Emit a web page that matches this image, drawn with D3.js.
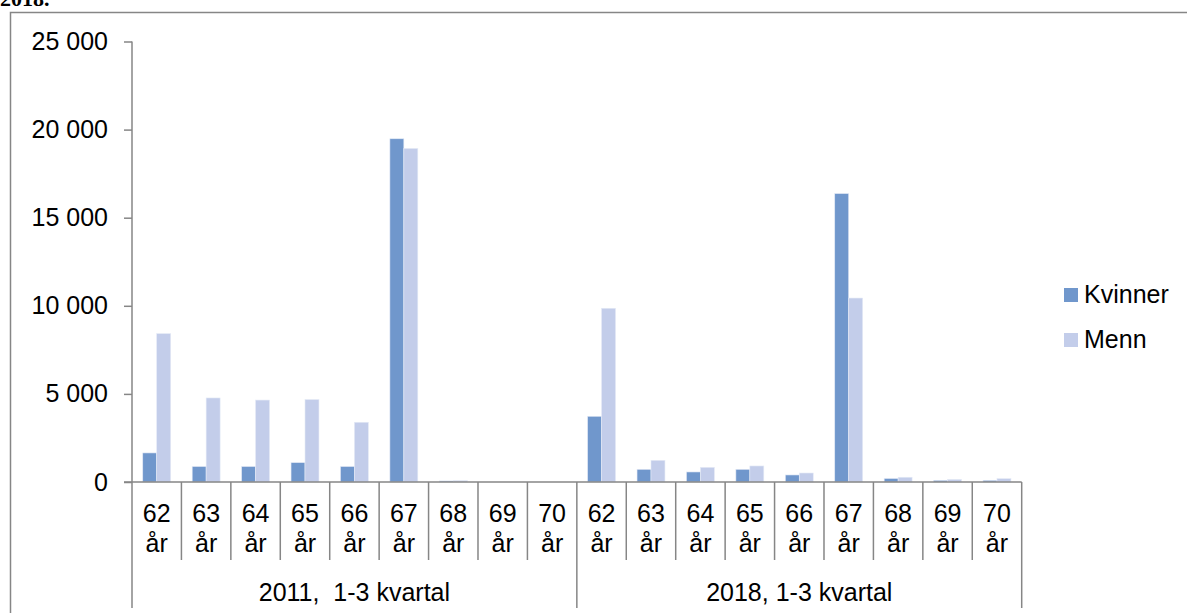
<!DOCTYPE html>
<html>
<head>
<meta charset="utf-8">
<script src="https://cdn.jsdelivr.net/npm/d3@7"></script>
<style>
  body { margin: 0; background: #fff; }
  svg { display: block; font-family: Arial, "Liberation Sans", sans-serif; }
  text { white-space: pre; }
</style>
</head>
<body>
<svg id="chart" width="1187" height="613"></svg>
<script>
// data
const ages = ['62', '63', '64', '65', '66', '67', '68', '69', '70'];
const periods = ['2011,  1-3 kvartal', '2018, 1-3 kvartal'];
const seriesNames = ['Kvinner', 'Menn'];
const kvinner2011 = [1650, 880, 880, 1100, 880, 19480, 60, 0, 0];
const menn2011    = [8420, 4770, 4650, 4680, 3390, 18930, 80, 0, 0];
const kvinner2018 = [3730, 720, 570, 720, 400, 16370, 200, 95, 95];
const menn2018    = [9860, 1230, 830, 910, 510, 10440, 270, 145, 190];
const yTicks = [0, 5000, 10000, 15000, 20000, 25000];

const colors = { Kvinner: '#7097cc', Menn: '#c3cdea' };
const axisColor = '#868686';

// rows: one per category
const rows = [];
periods.forEach((p, pi) => {
  const k = pi === 0 ? kvinner2011 : kvinner2018;
  const m = pi === 0 ? menn2011 : menn2018;
  ages.forEach((a, i) => {
    rows.push({ id: p + '|' + a, period: p, age: a, Kvinner: k[i], Menn: m[i] });
  });
});

const svg = d3.select('#chart');

// tittel (avkuttet øverst)
svg.append('text')
  .attr('x', 0).attr('y', 6)
  .attr('font-family', '"Liberation Serif", "Times New Roman", serif')
  .attr('font-weight', 'bold')
  .attr('font-size', 22)
  .text('2018.');

// ramme
svg.append('path')
  .attr('d', 'M10.5,613 V12.5 H1187')
  .attr('fill', 'none')
  .attr('stroke', axisColor)
  .attr('stroke-width', 1.5);

const x0 = 132, x1 = 1021.7, yZero = 482, yTop = 41.5;

const x = d3.scaleBand()
  .domain(rows.map(d => d.id))
  .range([x0, x1])
  .padding(0);

const xs = d3.scaleBand()
  .domain(seriesNames)
  .range([0, x.bandwidth()])
  .paddingInner(0)
  .paddingOuter(0.77);

const y = d3.scaleLinear()
  .domain([0, 25000])
  .range([yZero, yTop]);

// søyler
const g = svg.append('g');
g.selectAll('g.cat')
  .data(rows)
  .join('g')
    .attr('class', 'cat')
    .attr('transform', d => `translate(${x(d.id)},0)`)
  .selectAll('rect')
  .data(d => seriesNames.map(s => ({ s, v: d[s] })))
  .join('rect')
    .attr('x', d => xs(d.s))
    .attr('y', d => y(d.v))
    .attr('width', xs.bandwidth())
    .attr('height', d => yZero - y(d.v))
    .attr('fill', d => colors[d.s])
    .attr('stroke', d => d.v > 0 ? '#e4eaf6' : 'none')
    .attr('stroke-width', 0.6);

// y-akse
const fmt = d3.format(',');
const yAxis = svg.append('g')
  .attr('transform', `translate(${x0},0)`)
  .call(d3.axisLeft(y)
    .tickValues(yTicks)
    .tickSize(8)
    .tickPadding(16)
    .tickFormat(d => fmt(d).replace(/,/g, ' ')));
yAxis.select('.domain').remove();
yAxis.selectAll('.tick line').attr('stroke', axisColor).attr('stroke-width', 1.5);
yAxis.selectAll('.tick text')
  .attr('font-size', 25)
  .attr('font-family', 'Arial, "Liberation Sans", sans-serif')
  .attr('fill', '#000');
svg.append('line')
  .attr('x1', x0).attr('x2', x0)
  .attr('y1', yTop).attr('y2', yZero)
  .attr('stroke', axisColor).attr('stroke-width', 1.5);

// x-akse
svg.append('line')
  .attr('x1', x0 - 8).attr('x2', x1)
  .attr('y1', yZero).attr('y2', yZero)
  .attr('stroke', axisColor).attr('stroke-width', 1.5);

// skillelinjer kategorier
const bounds = rows.map(d => x(d.id)).concat([x1]);
svg.append('g').selectAll('line')
  .data(bounds)
  .join('line')
    .attr('x1', d => d).attr('x2', d => d)
    .attr('y1', yZero)
    .attr('y2', (d, i) => (i % ages.length === 0) ? 608 : 560)
    .attr('stroke', axisColor)
    .attr('stroke-width', 1.5);

// kategorietiketter
const lab = svg.append('g')
  .attr('font-size', 25)
  .attr('text-anchor', 'middle')
  .attr('fill', '#000');
lab.selectAll('text.age')
  .data(rows)
  .join('text')
    .attr('class', 'age')
    .attr('x', d => x(d.id) + x.bandwidth() / 2)
    .attr('y', 522)
    .text(d => d.age);
lab.selectAll('text.ar')
  .data(rows)
  .join('text')
    .attr('class', 'ar')
    .attr('x', d => x(d.id) + x.bandwidth() / 2)
    .attr('y', 552)
    .text('år');
lab.selectAll('text.period')
  .data(periods)
  .join('text')
    .attr('class', 'period')
    .attr('x', p => {
      const ids = rows.filter(r => r.period === p).map(r => r.id);
      return (x(ids[0]) + x(ids[ids.length - 1]) + x.bandwidth()) / 2;
    })
    .attr('y', 601)
    .text(p => p);

// legende
const leg = svg.append('g')
  .attr('transform', 'translate(1064,288)');
const li = leg.selectAll('g')
  .data(seriesNames)
  .join('g')
    .attr('transform', (d, i) => `translate(0,${i * 45})`);
li.append('rect')
  .attr('width', 14).attr('height', 14)
  .attr('fill', d => colors[d]);
li.append('text')
  .attr('x', 20).attr('y', 15)
  .attr('font-size', 25)
  .attr('fill', '#000')
  .text(d => d);
</script>
</body>
</html>
